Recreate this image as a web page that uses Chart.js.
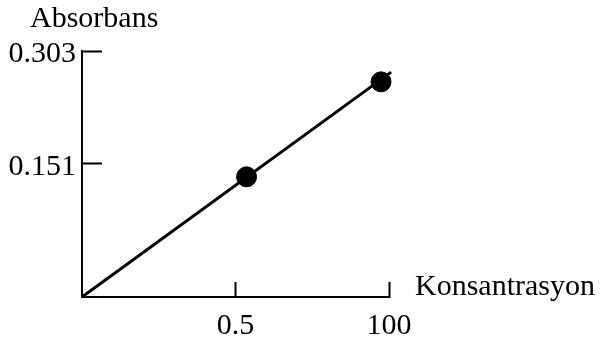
<!DOCTYPE html>
<html>
<head>
<meta charset="utf-8">
<script src="https://cdn.jsdelivr.net/npm/chart.js@4"></script>
<style>
  html, body { margin: 0; padding: 0; background: #fff; }
  #wrap { width: 601px; height: 344px; }
</style>
</head>
<body>
<div id="wrap"><canvas id="chart" width="601" height="344"></canvas></div>
<script>
// Data
const pointX = [0.536, 0.974];
const pointY = [0.148, 0.265];
const lineX = [0, 1.007];
const lineY = [0, 0.277];

// Axis ticks (positions as drawn, labels as printed)
const xTickValues = [0.5, 1.0];
const xTickLabels = ['0.5', '100'];
const yTickValues = [0.164, 0.303];
const yTickLabels = ['0.151', '0.303'];

const xTitle = 'Konsantrasyon';
const yTitle = 'Absorbans';

const FONT = '"Liberation Serif", "Times New Roman", serif';
const INK = '#000';

// Axis titles sit outside the usual Chart.js title slots
const titlePlugin = {
    id: 'axisTitles',
    afterDraw(chart) {
        const { ctx, chartArea } = chart;
        ctx.save();
        ctx.fillStyle = INK;
        ctx.font = '30px ' + FONT;
        ctx.textBaseline = 'alphabetic';
        ctx.textAlign = 'left';
        ctx.fillText(yTitle, chartArea.left - 52, 27);
        ctx.fillText(xTitle, chartArea.right + 26, chartArea.bottom - 2);
        ctx.restore();
    }
};

const toPoints = (xs, ys) => xs.map((x, i) => ({ x, y: ys[i] }));

new Chart(document.getElementById('chart').getContext('2d'), {
    type: 'scatter',
    data: {
        datasets: [
            {
                data: toPoints(lineX, lineY),
                showLine: true,
                borderColor: INK,
                borderWidth: 3,
                pointRadius: 0,
                clip: false
            },
            {
                data: toPoints(pointX, pointY),
                showLine: false,
                backgroundColor: INK,
                borderColor: INK,
                pointRadius: 10,
                clip: false
            }
        ]
    },
    options: {
        responsive: false,
        animation: false,
        layout: { padding: { left: 0, top: 51, right: 212, bottom: 0 } },
        plugins: { legend: { display: false }, tooltip: { enabled: false } },
        scales: {
            x: {
                type: 'linear',
                min: 0,
                max: 1,
                afterBuildTicks: (s) => { s.ticks = xTickValues.map(v => ({ value: v })); },
                afterFit: (s) => { s.height = 47; },
                grid: { drawOnChartArea: false, tickLength: -15, tickWidth: 2, tickColor: INK },
                border: { color: INK, width: 2 },
                ticks: {
                    color: INK,
                    font: { family: FONT, size: 30 },
                    padding: 26,
                    maxRotation: 0,
                    autoSkip: false,
                    callback: (v) => xTickLabels[xTickValues.indexOf(v)]
                }
            },
            y: {
                type: 'linear',
                min: 0,
                max: 0.303,
                afterBuildTicks: (s) => { s.ticks = yTickValues.map(v => ({ value: v })); },
                afterFit: (s) => { s.width = 82; },
                grid: { drawOnChartArea: false, tickLength: -20, tickWidth: 2, tickColor: INK },
                border: { color: INK, width: 2 },
                ticks: {
                    color: INK,
                    font: { family: FONT, size: 30 },
                    padding: 26,
                    labelOffset: 3,
                    autoSkip: false,
                    callback: (v) => yTickLabels[yTickValues.indexOf(v)]
                }
            }
        }
    },
    plugins: [titlePlugin]
});
</script>
</body>
</html>
